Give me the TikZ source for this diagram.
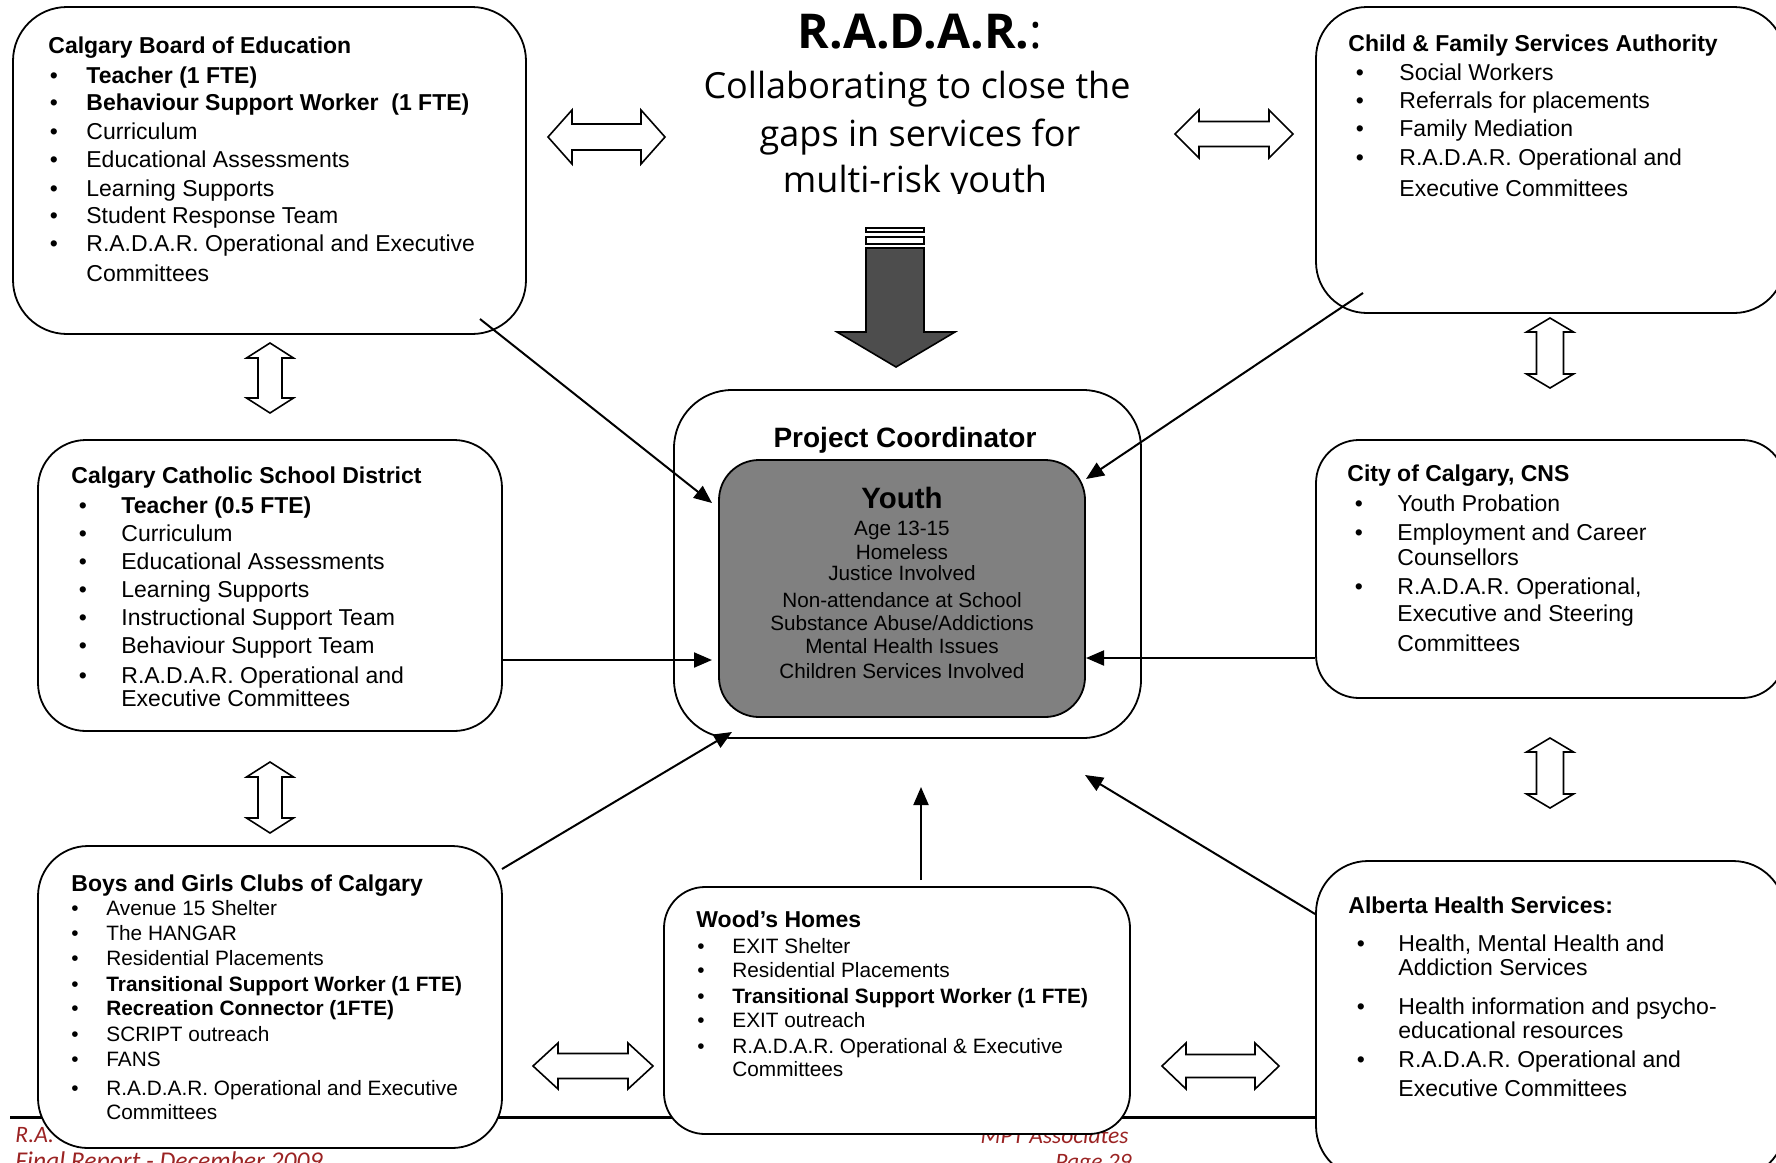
\documentclass[tikz,border=0pt]{standalone}
\usepackage{fontspec}
\setmainfont{Liberation Sans}
\newfontfamily\titlefont{Open Sans}
\newfontfamily\footfont{Carlito}
\usetikzlibrary{arrows.meta,fit}
\definecolor{youthgray}{RGB}{128,128,128}
\definecolor{arrowgray}{RGB}{77,77,77}
\definecolor{footred}{RGB}{155,35,35}
\newcommand\HArr[6]{%
\draw[blockarrow] (#1,#3) -- ({#1+#6},{#3-#4}) -- ({#1+#6},{#3-#5}) -- ({#2-#6},{#3-#5}) -- ({#2-#6},{#3-#4}) -- (#2,#3) -- ({#2-#6},{#3+#4}) -- ({#2-#6},{#3+#5}) -- ({#1+#6},{#3+#5}) -- ({#1+#6},{#3+#4}) -- cycle;}
\newcommand\VArr[6]{%
\draw[blockarrow] (#1,#2) -- ({#1+#4},{#2+#6}) -- ({#1+#5},{#2+#6}) -- ({#1+#5},{#3-#6}) -- ({#1+#4},{#3-#6}) -- (#1,#3) -- ({#1-#4},{#3-#6}) -- ({#1-#5},{#3-#6}) -- ({#1-#5},{#2+#6}) -- ({#1-#4},{#2+#6}) -- cycle;}
% bullet item: name, bullet x, text x, centre y, text
\newcommand\bitem[5]{\node[bl] (#1b) at (#2,#4) {\textbullet}; \node[it] (#1) at (#3,#4) {#5};}
\newcommand\sitem[5]{\node[bls] (#1b) at (#2,#4) {\textbullet}; \node[its] (#1) at (#3,#4) {#5};}
\tikzset{
 box/.style={draw=black, line width=0.9pt, fill=white, inner sep=0pt},
 hd/.style={font=\fontsize{11.5}{13}\selectfont\bfseries, anchor=base west, inner sep=0pt, yshift=-4.1pt},
 it/.style={font=\fontsize{11.5}{13}\selectfont, anchor=base west, inner sep=0pt, yshift=-4.1pt},
 its/.style={font=\fontsize{10.4}{12}\selectfont, anchor=base west, inner sep=0pt, yshift=-3.7pt},
 bl/.style={font=\fontsize{11.5}{13}\selectfont, anchor=base, inner sep=0pt, yshift=-4.1pt},
 bls/.style={font=\fontsize{10.4}{12}\selectfont, anchor=base, inner sep=0pt, yshift=-3.7pt},
 yt/.style={font=\fontsize{10.35}{12}\selectfont, anchor=base, inner sep=0pt},
 conn/.style={line width=1pt, -{Triangle[length=9pt,width=7.5pt]}},
 blockarrow/.style={draw=black, line width=0.8pt, fill=white, line join=miter},
 foot/.style={font=\footfont\itshape\fontsize{11.75}{14}\selectfont, text=footred, inner sep=0pt},
 ttl/.style={font=\titlefont, anchor=base, inner sep=0pt},
}
\begin{document}
\begin{tikzpicture}[x=0.5pt,y=-0.5pt]
\path[use as bounding box] (0,0) rectangle (1776,1162);
\clip (0,0) rectangle (1776,1162);
\fill[white] (0,0) rectangle (1776,1162);

% footer (behind boxes)
\coordinate (fl1) at (10,1117);
\coordinate (fl2) at (1340,1117);
\draw[line width=1.5pt] (fl1) -- (fl2);
\node[foot, anchor=base west] (f1) at (15,1142) {R.A.};
\node[foot, anchor=base west, font=\footfont\itshape\fontsize{12.8}{14}\selectfont] (f2) at (15,1169) {Final Report - December 2009};
\node[foot, anchor=base east] (f3) at (1129,1143) {MPT Associates};
\node[foot, anchor=base east] (f4) at (1132,1169) {Page 29};

% title
\begin{scope}
\clip (600,0) rectangle (1240,193);
\node[ttl, font=\titlefont\fontsize{24}{30}\selectfont] (title) at (920,48) {\textbf{R.A.D.A.R.}:};
\node[ttl, font=\titlefont\fontsize{18}{22}\selectfont] (sub1) at (917,98) {Collaborating to close the};
\node[ttl, font=\titlefont\fontsize{18}{22}\selectfont] (sub2) at (920,146) {gaps in services for};
\node[ttl, font=\titlefont\fontsize{18}{22}\selectfont] (sub3) at (915,192) {multi-risk youth};
\end{scope}

% boxes
\node[box, rounded corners=27pt, fit={(13,7) (526,334)}] (cbe) {};
\node[box, rounded corners=25.5pt, fit={(1316,7) (1785,313)}] (cfsa) {};
\node[box, rounded corners=24pt, fit={(38,440) (502,731)}] (ccsd) {};
\node[box, rounded corners=21.5pt, fit={(1316,440) (1785,698)}] (city) {};
\node[box, rounded corners=25pt, fit={(38,846) (502,1148)}] (bgc) {};
\node[box, rounded corners=20.5pt, fit={(664,887) (1130,1134)}] (woods) {};
\node[box, rounded corners=26pt, fit={(1316,861) (1785,1178)}] (ahs) {};
\node[box, rounded corners=29pt, fit={(674,390) (1141,738)}] (coord) {};
\node[box, fill=youthgray, rounded corners=20pt, fit={(719,460) (1085,717)}] (youth) {};

% Calgary Board of Education
\node[hd] (cbeh) at (48,45) {Calgary Board of Education};
\bitem{cbe1}{54}{86}{75}{\bfseries Teacher (1 FTE)}
\bitem{cbe2}{54}{86}{102}{\bfseries Behaviour Support Worker \ (1 FTE)}
\bitem{cbe3}{54}{86}{131}{Curriculum}
\bitem{cbe4}{54}{86}{159}{Educational Assessments}
\bitem{cbe5}{54}{86}{188}{Learning Supports}
\bitem{cbe6}{54}{86}{215}{Student Response Team}
\bitem{cbe7}{54}{86}{243}{R.A.D.A.R. Operational and Executive}
\node[it] (cbe8) at (86,273) {Committees};

% Child & Family Services Authority
\node[hd] (cfsah) at (1348,43) {Child \& Family Services Authority};
\bitem{cfsa1}{1360}{1399}{72}{Social Workers}
\bitem{cfsa2}{1360}{1399}{100}{Referrals for placements}
\bitem{cfsa3}{1360}{1399}{128}{Family Mediation}
\bitem{cfsa4}{1360}{1399}{157}{R.A.D.A.R. Operational and}
\node[it] (cfsa5) at (1399,188) {Executive Committees};

% Calgary Catholic School District
\node[hd] (ccsdh) at (71,475) {Calgary Catholic School District};
\bitem{ccsd1}{83}{121}{505}{\bfseries Teacher (0.5 FTE)}
\bitem{ccsd2}{83}{121}{533}{Curriculum}
\bitem{ccsd3}{83}{121}{561}{Educational Assessments}
\bitem{ccsd4}{83}{121}{589}{Learning Supports}
\bitem{ccsd5}{83}{121}{617}{Instructional Support Team}
\bitem{ccsd6}{83}{121}{645}{Behaviour Support Team}
\bitem{ccsd7}{83}{121}{675}{R.A.D.A.R. Operational and}
\node[it] (ccsd8) at (121,698) {Executive Committees};

% City of Calgary, CNS
\node[hd] (cityh) at (1347,473) {City of Calgary, CNS};
\bitem{city1}{1359}{1397}{503}{Youth Probation}
\bitem{city2}{1359}{1397}{532}{Employment and Career}
\node[it] (city3) at (1397,557) {Counsellors};
\bitem{city4}{1359}{1397}{586}{R.A.D.A.R. Operational,}
\node[it] (city5) at (1397,613) {Executive and Steering};
\node[it] (city6) at (1397,643) {Committees};

% Boys and Girls Clubs of Calgary
\node[hd] (bgch) at (71,883) {Boys and Girls Clubs of Calgary};
\sitem{bgc1}{75}{106}{908}{Avenue 15 Shelter}
\sitem{bgc2}{75}{106}{933}{The HANGAR}
\sitem{bgc3}{75}{106}{958}{Residential Placements}
\sitem{bgc4}{75}{106}{984}{\bfseries Transitional Support Worker (1 FTE)}
\sitem{bgc5}{75}{106}{1008}{\bfseries Recreation Connector (1FTE)}
\sitem{bgc6}{75}{106}{1034}{SCRIPT outreach}
\sitem{bgc7}{75}{106}{1059}{FANS}
\sitem{bgc8}{75}{106}{1088}{R.A.D.A.R. Operational and Executive}
\node[its] (bgc9) at (106,1112) {Committees};

% Wood's Homes
\node[hd] (woodsh) at (696,919) {Wood’s Homes};
\sitem{wh1}{701}{732}{946}{EXIT Shelter}
\sitem{wh2}{701}{732}{970}{Residential Placements}
\sitem{wh3}{701}{732}{996}{\bfseries Transitional Support Worker (1 FTE)}
\sitem{wh4}{701}{732}{1020}{EXIT outreach}
\sitem{wh5}{701}{732}{1046}{R.A.D.A.R. Operational \& Executive}
\node[its] (wh6) at (732,1069) {Committees};

% Alberta Health Services
\node[hd] (ahsh) at (1348,905) {Alberta Health Services:};
\bitem{ahs1}{1361}{1398}{943}{Health, Mental Health and}
\node[it] (ahs2) at (1398,967) {Addiction Services};
\bitem{ahs3}{1361}{1398}{1006}{Health information and psycho-}
\node[it] (ahs4) at (1398,1030) {educational resources};
\bitem{ahs5}{1361}{1398}{1059}{R.A.D.A.R. Operational and}
\node[it] (ahs6) at (1398,1088) {Executive Committees};

% Project coordinator / youth
\node[anchor=base, inner sep=0pt, font=\fontsize{14}{16}\selectfont\bfseries] (pc) at (905,447) {Project Coordinator};
\node[anchor=base, inner sep=0pt, font=\fontsize{14.7}{17}\selectfont\bfseries] (yh) at (902,508) {Youth};
\node[yt] (y1) at (902,535) {Age 13-15};
\node[yt] (y2) at (902,559) {Homeless};
\node[yt] (y3) at (902,580) {Justice Involved};
\node[yt] (y4) at (902,607) {Non-attendance at School};
\node[yt] (y5) at (902,630) {Substance Abuse/Addictions};
\node[yt] (y6) at (902,653) {Mental Health Issues};
\node[yt] (y7) at (902,678) {Children Services Involved};

% block (hollow) double arrows
\HArr{548}{665}{137}{27}{13}{24}
\HArr{1175}{1293}{134}{24}{12.5}{24}
\HArr{533}{653}{1066}{23}{12.5}{25}
\HArr{1162}{1279}{1066}{23}{11.5}{24}
\VArr{270}{343}{413}{23.5}{12}{15}
\VArr{270}{762}{833}{23.5}{12}{15}
\VArr{1550}{318}{388}{23.5}{13.5}{14}
\VArr{1550}{738}{808}{23.5}{13.5}{14}

% big down arrow
\draw[line width=0.6pt, fill=white] (866,228) rectangle (924,232);
\draw[line width=0.6pt, fill=white] (866,237) rectangle (924,244);
\draw[line width=0.8pt, fill=arrowgray, line join=miter] (866,248) -- (924,248) -- (924,332) -- (955,332) -- (896,367) -- (837,332) -- (866,332) -- cycle;

% connectors
\coordinate (s1) at (480,319);   \coordinate (e1) at (712,503);
\coordinate (s2) at (1363,293);  \coordinate (e2) at (1086,479);
\coordinate (s3) at (ccsd.east |- 0,660); \coordinate (e3) at (712,660);
\coordinate (s4) at (city.west |- 0,658); \coordinate (e4) at (1086,658);
\coordinate (s5) at (502,869);   \coordinate (e5) at (732,732);
\coordinate (s6) at (921,880);   \coordinate (e6) at (921,787);
\coordinate (s7) at (ahs.west |- 0,914); \coordinate (e7) at (1085,775);
\draw[conn] (s1) -- (e1);
\draw[conn] (s2) -- (e2);
\draw[conn] (s3) -- (e3);
\draw[conn] (s4) -- (e4);
\draw[conn] (s5) -- (e5);
\draw[conn] (s6) -- (e6);
\draw[conn] (s7) -- (e7);
\end{tikzpicture}
\end{document}
